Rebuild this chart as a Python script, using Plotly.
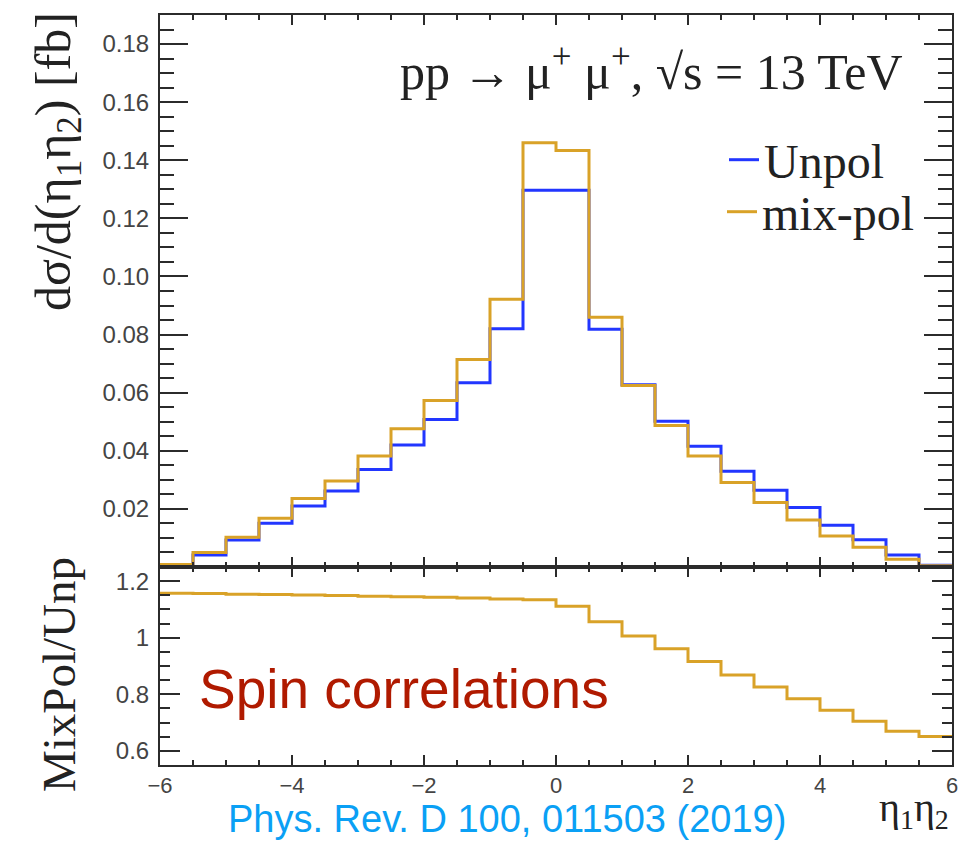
import plotly.graph_objects as go

# Bin edges in eta1*eta2 (width 0.5) and the two differential distributions [fb]
bin_edges = [-6.0, -5.5, -5.0, -4.5, -4.0, -3.5, -3.0, -2.5, -2.0, -1.5, -1.0, -0.5,
             0.0, 0.5, 1.0, 1.5, 2.0, 2.5, 3.0, 3.5, 4.0, 4.5, 5.0, 5.5, 6.0]
unpol = [0.0008, 0.0041, 0.0093, 0.0151, 0.0210, 0.0262, 0.0336, 0.0420, 0.0508, 0.0634,
         0.0820, 0.1297, 0.1297, 0.0818, 0.0627, 0.0502, 0.0416, 0.0330, 0.0264, 0.0205,
         0.0144, 0.0094, 0.0041, 0.0006]
mixpol = [0.0009, 0.0050, 0.0102, 0.0168, 0.0236, 0.0296, 0.0382, 0.0476, 0.0573, 0.0714,
          0.0922, 0.1460, 0.1434, 0.0860, 0.0625, 0.0487, 0.0382, 0.0291, 0.0222, 0.0162,
          0.0107, 0.0068, 0.0027, 0.0004]
# MixPol / Unpol ratio per bin
ratio = [1.157, 1.156, 1.154, 1.153, 1.151, 1.149, 1.147, 1.145, 1.143, 1.140, 1.137, 1.134,
         1.111, 1.056, 1.006, 0.961, 0.916, 0.868, 0.826, 0.784, 0.744, 0.705, 0.669, 0.651]

upper_ticks = [0.02, 0.04, 0.06, 0.08, 0.10, 0.12, 0.14, 0.16, 0.18]
upper_ticktext = ["0.02", "0.04", "0.06", "0.08", "0.10", "0.12", "0.14", "0.16", "0.18"]
lower_ticks = [0.6, 0.8, 1.0, 1.2]
lower_ticktext = ["0.6", "0.8", "1", "1.2"]
x_ticks = [-6, -4, -2, 0, 2, 4, 6]
x_ticktext = ["\u22126", "\u22124", "\u22122", "0", "2", "4", "6"]

BLUE = "#2236ff"
GOLD = "#d9a228"
AXIS = "#2b2b2b"
SERIF = "Liberation Serif, Times New Roman, serif"
SANS = "Liberation Sans, Arial, sans-serif"


def step(values):
    # repeat last value so the final bin is drawn up to the right edge
    return list(values) + [values[-1]]


fig = go.Figure()
fig.add_trace(go.Scatter(x=bin_edges, y=step(unpol), mode="lines", line_shape="hv",
                         line=dict(color=BLUE, width=3), name="Unpol",
                         legend="legend", xaxis="x", yaxis="y"))
fig.add_trace(go.Scatter(x=bin_edges, y=step(mixpol), mode="lines", line_shape="hv",
                         line=dict(color=GOLD, width=3), name="mix-pol",
                         legend="legend2", xaxis="x", yaxis="y"))
fig.add_trace(go.Scatter(x=bin_edges, y=step(ratio), mode="lines", line_shape="hv",
                         line=dict(color=GOLD, width=3), showlegend=False,
                         xaxis="x2", yaxis="y2"))

common_axis = dict(showline=True, linecolor=AXIS, linewidth=2, mirror="allticks",
                   ticks="inside", tickcolor=AXIS, tickwidth=2, showgrid=False,
                   zeroline=False)
lower_dom = 198 / 750
legend_style = dict(xanchor="left", yanchor="middle",
                    font=dict(family=SERIF, size=48, color="#222"),
                    bgcolor="rgba(0,0,0,0)", borderwidth=0)

fig.update_layout(
    width=979, height=842,
    margin=dict(l=160, r=27, t=15, b=77),
    paper_bgcolor="white", plot_bgcolor="white",
    showlegend=True,
    legend=dict(x=(724 - 160) / 792, y=(765 - 160) / 750, **legend_style),
    legend2=dict(x=(722 - 160) / 792, y=(765 - 212) / 750, **legend_style),
    xaxis=dict(domain=[0, 1], anchor="y", range=[-6, 6], tickvals=x_ticks,
               showticklabels=False, ticklen=10,
               minor=dict(ticks="inside", dtick=0.5, tick0=0, ticklen=5,
                          tickcolor=AXIS, tickwidth=2),
               **common_axis),
    yaxis=dict(domain=[lower_dom, 1], anchor="x", range=[0, 0.19],
               tickvals=upper_ticks, ticktext=upper_ticktext, ticklen=28,
               tickfont=dict(family=SANS, size=24, color="#444"), ticklabelstandoff=4,
               minor=dict(ticks="inside", dtick=0.005, tick0=0, ticklen=14,
                          tickcolor=AXIS, tickwidth=2),
               **common_axis),
    xaxis2=dict(domain=[0, 1], anchor="y2", range=[-6, 6], tickvals=x_ticks,
                ticktext=x_ticktext, ticklen=10,
                tickfont=dict(family=SANS, size=22, color="#444"),
                minor=dict(ticks="inside", dtick=0.5, tick0=0, ticklen=5,
                           tickcolor=AXIS, tickwidth=2),
                **common_axis),
    yaxis2=dict(domain=[0, lower_dom], anchor="x2", range=[0.55, 1.25],
                tickvals=lower_ticks, ticktext=lower_ticktext, ticklen=20,
                tickfont=dict(family=SANS, size=24, color="#444"), ticklabelstandoff=4,
                minor=dict(ticks="inside", dtick=0.05, tick0=0, ticklen=10,
                           tickcolor=AXIS, tickwidth=2),
                **common_axis),
)

annotations = [
    dict(text="pp \u2192 \u03bc<sup>+</sup> \u03bc<sup>+</sup>, \u221as = 13 TeV",
         xref="paper", yref="paper", x=(905 - 160) / 792, y=(765 - 69) / 750,
         xanchor="right", yanchor="middle",
         showarrow=False, font=dict(family=SERIF, size=50, color="#222")),
    dict(text="d\u03c3/d(\u03b7<sub>1</sub>\u03b7<sub>2</sub>) [fb]",
         xref="paper", yref="paper", x=(57 - 160) / 792, y=(765 - 162) / 750,
         xanchor="center", yanchor="middle", textangle=-90, showarrow=False,
         font=dict(family=SERIF, size=50, color="#222")),
    dict(text="MixPol/Unp",
         xref="paper", yref="paper", x=(59 - 160) / 792, y=(765 - 675) / 750,
         xanchor="center", yanchor="middle", textangle=-90, showarrow=False,
         font=dict(family=SERIF, size=47, color="#222")),
    dict(text="\u03b7<sub>1</sub>\u03b7<sub>2</sub>",
         xref="paper", yref="paper", x=(951 - 160) / 792, y=(765 - 810) / 750,
         xanchor="right", yanchor="middle", showarrow=False,
         font=dict(family=SERIF, size=40, color="#222")),
    dict(text="Spin correlations",
         xref="paper", yref="paper", x=(197 - 160) / 792, y=(765 - 689) / 750,
         xanchor="left", yanchor="middle", showarrow=False,
         font=dict(family=SANS, size=55, color="#b01a00")),
    dict(text="Phys. Rev. D 100, 011503 (2019)",
         xref="paper", yref="paper", x=(507 - 160) / 792, y=(765 - 819) / 750,
         xanchor="center", yanchor="middle", showarrow=False,
         font=dict(family=SANS, size=38, color="#0aa0f5")),
]
fig.update_layout(annotations=annotations)

fig.write_html("out.html")
